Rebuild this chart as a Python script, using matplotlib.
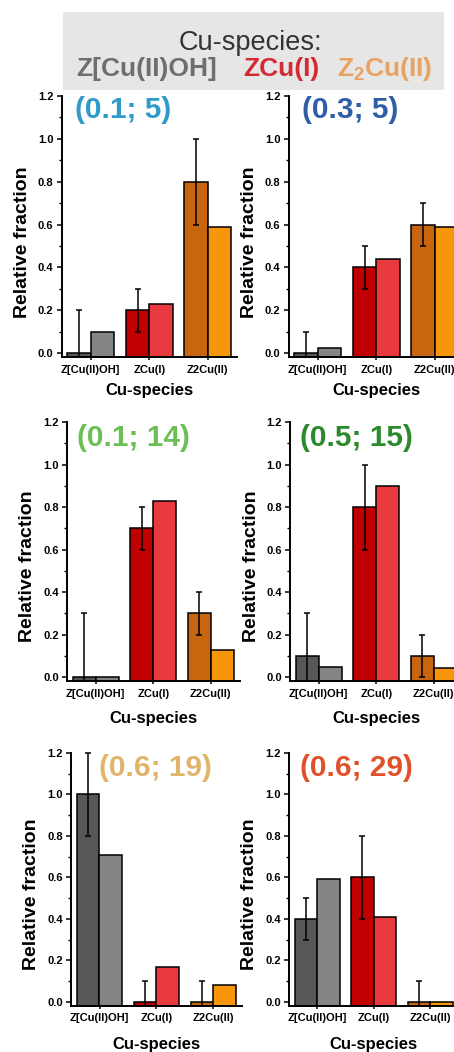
import numpy as np
import matplotlib
matplotlib.use('Agg')
import matplotlib.pyplot as plt
from matplotlib.patches import Rectangle
from matplotlib.ticker import MultipleLocator, FormatStrFormatter

plt.rcParams['font.family'] = ['Liberation Sans', 'DejaVu Sans']
plt.rcParams['font.weight'] = 'bold'
plt.rcParams['mathtext.fontset'] = 'custom'
plt.rcParams['mathtext.rm'] = 'Liberation Sans:bold'
plt.rcParams['mathtext.bf'] = 'Liberation Sans:bold'

# ---------------- data ----------------
species = ['Z[Cu(II)OH]', 'ZCu(I)', 'Z2Cu(II)']
panel_titles = ['(0.1; 5)', '(0.3; 5)', '(0.1; 14)', '(0.5; 15)', '(0.6; 19)', '(0.6; 29)']
exp_vals = [[0.0, 0.2, 0.8],
            [0.0, 0.4, 0.6],
            [0.0, 0.7, 0.3],
            [0.1, 0.8, 0.1],
            [1.0, 0.0, 0.0],
            [0.4, 0.6, 0.0]]
exp_err = [[0.2, 0.1, 0.2],
           [0.1, 0.1, 0.1],
           [0.3, 0.1, 0.1],
           [0.2, 0.2, 0.1],
           [0.2, 0.1, 0.1],
           [0.1, 0.2, 0.1]]
model_vals = [[0.10, 0.23, 0.59],
              [0.025, 0.44, 0.59],
              [0.0, 0.83, 0.13],
              [0.05, 0.90, 0.045],
              [0.71, 0.17, 0.08],
              [0.59, 0.41, 0.0]]
header_title = 'Cu-species:'
header_species = ['Z[Cu(II)OH]', 'ZCu(I)', r'Z$_2$Cu(II)']
xlabel_text = 'Cu-species'
ylabel_text = 'Relative fraction'

# ---------------- style ----------------
title_colors = ['#2f9bc9', '#2f5ea6', '#6cbf55', '#2b8a2b', '#e1b46a', '#e0522b']
dark_colors = ['#575757', '#c00000', '#c8650f']
light_colors = ['#858585', '#e8393e', '#f7950b']
header_colors = ['#6e6e6e', '#d42a35', '#e8a262']

W, H = 454, 1052
fig = plt.figure(figsize=(W / 100, H / 100), dpi=100)
fig.patch.set_facecolor('white')

# header box
fig.patches.append(Rectangle((63 / W, 1 - 90 / H), (444 - 63) / W, (90 - 12) / H,
                             transform=fig.transFigure, facecolor='#e6e6e6',
                             edgecolor='none', zorder=0))
fig.text(250 / W, 1 - 50 / H, header_title, ha='center', va='baseline',
         fontsize=19.5, fontweight='normal', color='#333333')
for txt, xp, c in zip(header_species, [76, 243, 337], header_colors):
    fig.text(xp / W, 1 - 76 / H, txt, ha='left', va='baseline',
             fontsize=19, fontweight='bold', color=c)

# layout (pixels)
row_tops = [96, 422, 753]
row_bots = [357, 681, 1005.5]
col_x0 = [[61.5, 288.5], [67, 290], [71, 289]]
col_unit = [[58.5, 58.5], [57.5, 57.5], [57, 56.5]]
title_pos = [(75, 110), (302, 110), (77, 438), (300, 438), (99, 768), (300, 768)]
xlabel_y = [390, 718, 1045]

ybase = -0.018
ytop = 1.2
bw = 0.4
x = np.arange(1, len(species) + 1)

for i in range(6):
    r, c = divmod(i, 2)
    x0 = col_x0[r][c]
    unit = col_unit[r][c]
    wpx = 3 * unit
    top, bot = row_tops[r], row_bots[r]
    hpx = bot - top
    ax = fig.add_axes([x0 / W, 1 - bot / H, wpx / W, hpx / H])
    ax.set_facecolor('none')
    ev = np.array(exp_vals[i])
    ee = np.array(exp_err[i])
    mv = np.array(model_vals[i])
    ax.bar(x - bw / 2, ev - ybase, bottom=ybase, width=bw, color=dark_colors,
           edgecolor='black', linewidth=1.1, zorder=2)
    ax.bar(x + bw / 2, mv - ybase, bottom=ybase, width=bw, color=light_colors,
           edgecolor='black', linewidth=1.1, zorder=2)
    lower = np.minimum(ee, ev - ybase)
    ax.errorbar(x - bw / 2, ev, yerr=[lower, ee], fmt='none', ecolor='black',
                elinewidth=1.1, capsize=2.2, capthick=1.1, zorder=3, clip_on=False)
    ax.set_xlim(0.5, 3.5)
    ax.set_ylim(ybase, ytop)
    for s in ['top', 'right']:
        ax.spines[s].set_visible(False)
    for s in ['left', 'bottom']:
        ax.spines[s].set_linewidth(1.4)
    ax.spines['left'].set_bounds(ybase, ytop)
    ax.yaxis.set_major_locator(MultipleLocator(0.2))
    ax.yaxis.set_minor_locator(MultipleLocator(0.1))
    ax.yaxis.set_major_formatter(FormatStrFormatter('%.1f'))
    ax.tick_params(axis='y', which='major', direction='out', length=3.8, width=1.1,
                   labelsize=8, pad=2)
    ax.tick_params(axis='y', which='minor', direction='out', length=2, width=1)
    ax.set_xticks(x)
    ax.set_xticklabels(species)
    ax.tick_params(axis='x', direction='inout', length=5, width=1.1,
                   labelsize=8, pad=3)
    ax.set_xlabel(xlabel_text, fontsize=12, fontweight='bold')
    ax.xaxis.set_label_coords(0.5, (bot - xlabel_y[r]) / hpx)
    ax.xaxis.label.set_va('center')
    ax.set_ylabel(ylabel_text, fontsize=14, fontweight='bold')
    ax.yaxis.set_label_coords(-39 / wpx, (0.52 - ybase) / (ytop - ybase))
    ax.yaxis.label.set_va('center')
    tx, ty = title_pos[i]
    fig.text(tx / W, 1 - ty / H, panel_titles[i], ha='left', va='center',
             fontsize=21.5, fontweight='bold', color=title_colors[i])

fig.savefig('out.png', dpi=100)
